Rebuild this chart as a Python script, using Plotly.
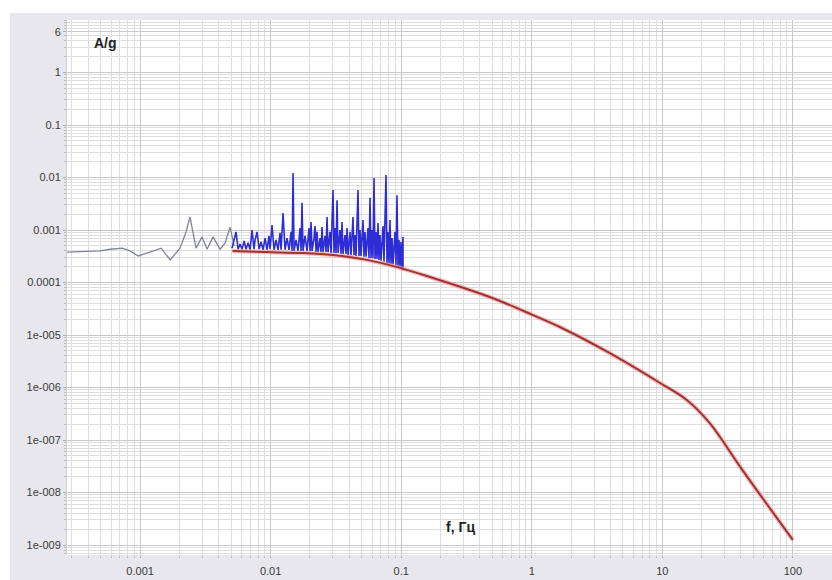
import plotly.graph_objects as go

# ---- data ----
gray_f = [0.000276, 0.000494, 0.000589, 0.000728, 0.000838, 0.000965, 0.00119, 0.00145,
          0.00170, 0.00202, 0.00225, 0.00241, 0.00268, 0.00298, 0.00326, 0.00362,
          0.00410, 0.00448, 0.00489, 0.00525]
gray_a = [0.00038, 0.00040, 0.00043, 0.00045, 0.00040, 0.00032, 0.00038, 0.00045,
          0.00027, 0.00045, 0.00092, 0.00177, 0.00045, 0.00074, 0.00043, 0.00074,
          0.00043, 0.00057, 0.00114, 0.00050]

blue_f = [0.00506, 0.00525, 0.00543, 0.00563, 0.00583, 0.00604, 0.00626, 0.00648, 0.00672, 0.00696,
          0.00720, 0.00746, 0.00760, 0.00787, 0.00815, 0.00844, 0.00875, 0.00906, 0.00938, 0.00972,
          0.00990, 0.01025, 0.01062, 0.01100, 0.01139, 0.01180, 0.01201, 0.01244, 0.01289, 0.01335,
          0.01383, 0.01433, 0.01459, 0.01485, 0.01511, 0.01565, 0.01621, 0.01679, 0.01709, 0.01739,
          0.01770, 0.01834, 0.01900, 0.01968, 0.02003, 0.02039, 0.02075, 0.02149, 0.02188, 0.02227,
          0.02266, 0.02307, 0.02389, 0.02432, 0.02475, 0.02519, 0.02609, 0.02656, 0.02703, 0.02751,
          0.02850, 0.02901, 0.03005, 0.03058, 0.03113, 0.03168, 0.03225, 0.03282, 0.03399, 0.03460,
          0.03521, 0.03584, 0.03712, 0.03778, 0.03846, 0.03914, 0.04054, 0.04126, 0.04274, 0.04350,
          0.04428, 0.04506, 0.04668, 0.04751, 0.04836, 0.04922, 0.05099, 0.05190, 0.05282, 0.05376,
          0.05569, 0.05668, 0.05769, 0.05872, 0.05976, 0.06082, 0.06191, 0.06301, 0.06413, 0.06527,
          0.06643, 0.06761, 0.06881, 0.07004, 0.07255, 0.07384, 0.07649, 0.07785, 0.07924, 0.08065,
          0.08207, 0.08353, 0.08502, 0.08653, 0.08964, 0.09123, 0.09285, 0.09451, 0.09619, 0.09791,
          0.09966, 0.1014, 0.1032, 0.1033]
blue_a = [0.00045, 0.00065, 0.00092, 0.00043, 0.00054, 0.00043, 0.00062, 0.00043, 0.00057, 0.00042,
          0.0010, 0.00043, 0.00065, 0.00092, 0.00043, 0.00059, 0.00042, 0.00070, 0.00042, 0.00077,
          0.00043, 0.00124, 0.00042, 0.00065, 0.00042, 0.00088, 0.00042, 0.0021, 0.00042, 0.00070,
          0.00042, 0.00092, 0.00040, 0.0122, 0.00040, 0.00065, 0.00040, 0.00109, 0.00040, 0.0033,
          0.00040, 0.00077, 0.00040, 0.00109, 0.00040, 0.00142, 0.00040, 0.00070, 0.00119, 0.00038,
          0.00092, 0.00038, 0.00070, 0.00038, 0.00114, 0.00038, 0.00077, 0.00038, 0.00177, 0.00038,
          0.00092, 0.000365, 0.0058, 0.000365, 0.00109, 0.000365, 0.0037, 0.000365, 0.0010, 0.00035,
          0.00142, 0.00035, 0.0008, 0.00035, 0.00109, 0.00033, 0.00092, 0.00033, 0.00177, 0.00033,
          0.0008, 0.00032, 0.0058, 0.00032, 0.0010, 0.00032, 0.00155, 0.00031, 0.00092, 0.00031,
          0.00109, 0.00029, 0.0041, 0.00029, 0.0010, 0.00029, 0.0098, 0.00028, 0.00092, 0.00028,
          0.00136, 0.00027, 0.0008, 0.00026, 0.00119, 0.00025, 0.0112, 0.00023, 0.00092, 0.00023,
          0.00155, 0.000225, 0.0007, 0.00022, 0.00092, 0.00021, 0.0046, 0.0002, 0.00065, 0.00019,
          0.00059, 0.00018, 0.00074, 0.00017]

red_f = [0.0051, 0.0092, 0.0168, 0.030, 0.0547, 0.098, 0.175, 0.319, 0.571, 1.02,
         1.64, 3.97, 9.6, 15.4, 23.1, 41, 100]
red_a = [4.0e-4, 3.8e-4, 3.65e-4, 3.34e-4, 2.7e-4, 1.9e-4, 1.22e-4, 7.5e-5, 4.45e-5, 2.4e-5,
         1.42e-5, 4.5e-6, 1.22e-6, 5.8e-7, 2.1e-7, 2.7e-8, 1.25e-9]

y_tickvals = [6, 1, 0.1, 0.01, 0.001, 0.0001, 1e-5, 1e-6, 1e-7, 1e-8, 1e-9]
y_ticktext = ["6", "1", "0.1", "0.01", "0.001", "0.0001", "1e-005", "1e-006", "1e-007", "1e-008", "1e-009"]
x_tickvals = [0.001, 0.01, 0.1, 1, 10, 100]
x_ticktext = ["0.001", "0.01", "0.1", "1", "10", "100"]

fig = go.Figure()
fig.add_trace(go.Scatter(x=gray_f, y=gray_a, mode="lines",
                         line=dict(color="#80849a", width=1.3), hoverinfo="skip"))
fig.add_trace(go.Scatter(x=blue_f, y=blue_a, mode="lines",
                         line=dict(color="rgb(45,45,215)", width=1.6), hoverinfo="skip"))
fig.add_trace(go.Scatter(x=red_f, y=red_a, mode="lines", line_shape="spline",
                         line=dict(color="rgba(240,150,150,0.6)", width=4.5), hoverinfo="skip"))
fig.add_trace(go.Scatter(x=red_f, y=red_a, mode="lines", line_shape="spline",
                         line=dict(color="#9e3434", width=2), hoverinfo="skip"))

gray_bg = "#e7e7ed"
fig.update_layout(
    width=832, height=580,
    margin=dict(l=67, r=0, t=20, b=25, autoexpand=False),
    paper_bgcolor=gray_bg, plot_bgcolor="white",
    showlegend=False,
    font=dict(family="Liberation Sans, Arial, sans-serif", size=11, color="#3a3a3a"),
    shapes=[
        dict(type="rect", xref="paper", yref="paper", x0=-0.2, x1=1.1, y0=1.0131, y1=1.2,
             fillcolor="white", line_width=0, layer="below"),
        dict(type="rect", xref="paper", yref="paper", x0=-0.2, x1=-0.0745, y0=-0.2, y1=1.2,
             fillcolor="white", line_width=0, layer="below"),
    ],
    annotations=[
        dict(text="<b>A/g</b>", xref="paper", yref="paper", x=0.0497, y=0.957,
             xanchor="center", yanchor="middle",
             showarrow=False, font=dict(size=14, color="#222")),
        dict(text="<b>f, Гц</b>", xref="paper", yref="paper", x=0.514, y=0.052,
             xanchor="center", yanchor="middle",
             showarrow=False, font=dict(size=14, color="#222")),
    ],
)
fig.update_xaxes(type="log", range=[-3.56, 2.30], automargin=False,
                 tickvals=x_tickvals, ticktext=x_ticktext,
                 showgrid=True, gridcolor="#c9c9cc", gridwidth=1,
                 ticks="outside", ticklen=2, tickcolor="#aaa", ticklabelstandoff=4,
                 minor=dict(dtick="D1", showgrid=True, gridcolor="#dedee2",
                            ticks="outside", ticklen=2, tickcolor="#bbb"),
                 showline=False, zeroline=False)
fig.update_yaxes(type="log", range=[-9.19, 1.0], automargin=False,
                 tickvals=y_tickvals, ticktext=y_ticktext,
                 showgrid=True, gridcolor="#c9c9cc", gridwidth=1,
                 ticks="outside", ticklen=3, tickcolor="#aaa",
                 minor=dict(dtick="D1", showgrid=True, gridcolor="#dedee2",
                            ticks="outside", ticklen=2, tickcolor="#bbb"),
                 showline=True, linecolor="#cfcfd4", zeroline=False)

fig.write_html("out.html", config={"displayModeBar": False},
               post_script="document.body.style.margin='0';document.body.style.overflow='hidden';")
